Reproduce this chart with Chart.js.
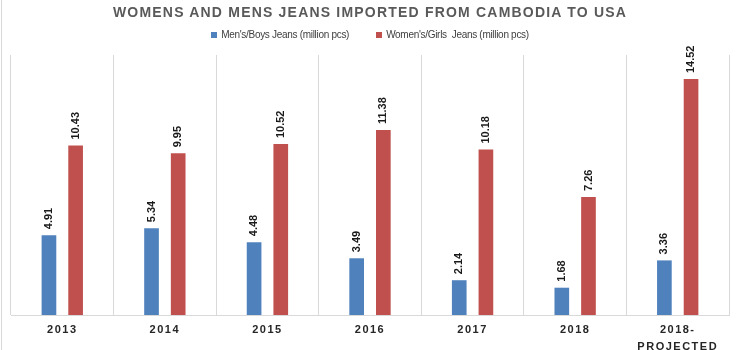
<!DOCTYPE html>
<html>
<head>
<meta charset="utf-8">
<script src="https://cdn.jsdelivr.net/npm/chart.js@4/dist/chart.umd.min.js"></script>
<style>
  body { margin: 0; background: #fff; }
  #wrap { position: relative; width: 740px; height: 350px; overflow: hidden; }
  #frame { position: absolute; left: 1px; top: 0; width: 1px; height: 350px; background: #d9d9d9; }
  #title {
    position: absolute; left: 0; top: 4px; width: 740px; text-align: center;
    font: bold 14px "Liberation Sans", Arial, sans-serif; letter-spacing: 1.2px; color: #595959;
  }
  #legend {
    position: absolute; left: 0; top: 29px; width: 740px; display: flex; justify-content: center; gap: 27px;
    font: 10px "Liberation Sans", Arial, sans-serif; letter-spacing: -0.3px; color: #404040;
  }
  #legend span.item { display: flex; align-items: center; }
  #legend i { display: inline-block; width: 6px; height: 6px; margin-right: 4px; }
</style>
</head>
<body>
<div id="wrap">
  <div id="frame"></div>
  <canvas id="jeans-chart"></canvas>
  <div id="title">WOMENS AND MENS JEANS IMPORTED FROM CAMBODIA TO USA</div>
  <div id="legend"></div>
</div>
<script>
// Years on the x axis
const years = ['2013', '2014', '2015', '2016', '2017', '2018', ['2018-', 'PROJECTED']];

// Imports in million pieces
const mensJeans = [4.91, 5.34, 4.48, 3.49, 2.14, 1.68, 3.36];
const womensJeans = [10.43, 9.95, 10.52, 11.38, 10.18, 7.26, 14.52];

const seriesNames = ["Men's/Boys Jeans (million pcs)", "Women's/Girls  Jeans (million pcs)"];
const seriesColors = ['#4F81BD', '#C0504D'];

// Spaced-out axis labels
const spacedTicks = {
  id: 'spacedTicks',
  beforeDraw(chart) {
    chart.ctx.letterSpacing = '1.5px';
  }
};

// Rotated value labels above each bar
const valueLabels = {
  id: 'valueLabels',
  afterDatasetsDraw(chart) {
    const ctx = chart.ctx;
    chart.data.datasets.forEach((ds, i) => {
      const meta = chart.getDatasetMeta(i);
      meta.data.forEach((bar, j) => {
        ctx.save();
        ctx.letterSpacing = '0px';
        ctx.font = 'bold 11px "Liberation Sans", Arial, sans-serif';
        ctx.fillStyle = '#1a1a1a';
        ctx.textAlign = 'left';
        ctx.textBaseline = 'middle';
        ctx.translate(bar.x, bar.y - 6);
        ctx.rotate(-Math.PI / 2);
        ctx.fillText(ds.data[j].toFixed(2), 0, 0);
        ctx.restore();
      });
    });
  }
};

function buildLegend() {
  const legend = document.getElementById('legend');
  seriesNames.forEach((name, i) => {
    const item = document.createElement('span');
    item.className = 'item';
    item.innerHTML = `<i style="background:${seriesColors[i]}"></i>`;
    item.appendChild(document.createTextNode(name));
    item.style.whiteSpace = 'pre';
    legend.appendChild(item);
  });
}

function initializeChart() {
  const ctx = document.getElementById('jeans-chart').getContext('2d');
  new Chart(ctx, {
    type: 'bar',
    data: {
      labels: years,
      datasets: [
        { label: seriesNames[0], data: mensJeans, backgroundColor: seriesColors[0] },
        { label: seriesNames[1], data: womensJeans, backgroundColor: seriesColors[1] }
      ]
    },
    options: {
      responsive: true,
      maintainAspectRatio: false,
      animation: false,
      categoryPercentage: 0.52,
      barPercentage: 0.55,
      layout: { padding: { top: 55, left: 11, right: 11, bottom: 0 } },
      plugins: {
        legend: { display: false },
        tooltip: { enabled: false }
      },
      scales: {
        x: {
          grid: { color: '#d9d9d9', drawTicks: false },
          border: { color: '#d9d9d9' },
          ticks: {
            color: '#262626',
            font: { family: '"Liberation Sans", Arial, sans-serif', size: 11, weight: 'bold', lineHeight: 1.6 },
            padding: 6,
            maxRotation: 0,
            autoSkip: false
          },
          afterFit(scale) {
            scale.height = 35;
          }
        },
        y: { display: false, min: 0, max: 16 }
      }
    },
    plugins: [spacedTicks, valueLabels]
  });
}

document.addEventListener('DOMContentLoaded', () => {
  buildLegend();
  initializeChart();
});
</script>
</body>
</html>
